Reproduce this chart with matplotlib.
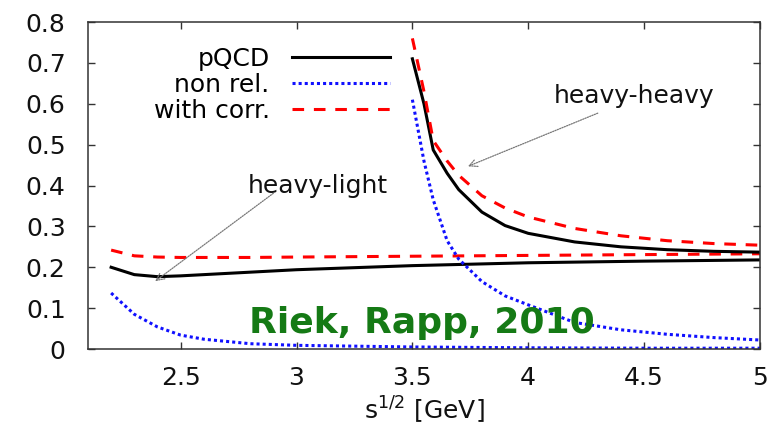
import matplotlib
matplotlib.use("Agg")
import matplotlib.pyplot as plt

plt.rcParams['font.family'] = ['DejaVu Sans']

# heavy-light channel
x_hl = [2.2, 2.3, 2.4, 2.5, 2.6, 2.8, 3.0, 3.5, 4.0, 4.5, 5.0]
pqcd_hl = [0.200, 0.182, 0.177, 0.179, 0.182, 0.188, 0.194, 0.204, 0.211, 0.215, 0.218]
nonrel_hl = [0.137, 0.085, 0.054, 0.034, 0.024, 0.013, 0.009, 0.005, 0.003, 0.002, 0.002]
corr_hl = [0.242, 0.228, 0.225, 0.224, 0.224, 0.224, 0.225, 0.227, 0.229, 0.231, 0.233]

# heavy-heavy channel
x_hh = [3.5, 3.55, 3.59, 3.65, 3.7, 3.8, 3.9, 4.0, 4.2, 4.4, 4.6, 4.8, 5.0]
pqcd_hh = [0.71, 0.60, 0.487, 0.43, 0.39, 0.335, 0.302, 0.283, 0.262, 0.250, 0.243, 0.239, 0.237]
nonrel_hh = [0.61, 0.46, 0.365, 0.265, 0.22, 0.165, 0.13, 0.108, 0.065, 0.047, 0.036, 0.028, 0.022]
corr_hh = [0.76, 0.63, 0.51, 0.46, 0.425, 0.375, 0.345, 0.323, 0.295, 0.277, 0.265, 0.258, 0.254]

xticks = [2.5, 3, 3.5, 4, 4.5, 5]
xtick_labels = ['2.5', '3', '3.5', '4', '4.5', '5']
yticks = [0, 0.1, 0.2, 0.3, 0.4, 0.5, 0.6, 0.7, 0.8]
ytick_labels = ['0', '0.1', '0.2', '0.3', '0.4', '0.5', '0.6', '0.7', '0.8']

fig = plt.figure(figsize=(7.75, 4.36), dpi=100)
ax = fig.add_axes([0.1135, 0.1995, 0.8671, 0.75])

lw = 2.2
black_style = dict(color='black', lw=lw)
blue_style = dict(color='#1010ff', lw=lw, linestyle=(0, (1, 1)))
red_style = dict(color='#ff0000', lw=lw, linestyle=(0, (3.8, 3.2)))

ax.plot(x_hl, pqcd_hl, label='pQCD', **black_style)
ax.plot(x_hl, nonrel_hl, label='non rel.', **blue_style)
ax.plot(x_hl, corr_hl, label='with corr.', **red_style)
ax.plot(x_hh, pqcd_hh, **black_style)
ax.plot(x_hh, nonrel_hh, **blue_style)
ax.plot(x_hh, corr_hh, **red_style)

ax.set_xlim(2.1, 5.0)
ax.set_ylim(0, 0.8)
ax.set_xticks(xticks)
ax.set_xticklabels(xtick_labels)
ax.set_yticks(yticks)
ax.set_yticklabels(ytick_labels)
ax.tick_params(direction='in', length=5, width=1, labelsize=18,
               top=True, right=True, colors='#333333', labelcolor='#111111')
ax.tick_params(axis='y', pad=16)
ax.tick_params(axis='x', pad=12)
for s in ax.spines.values():
    s.set_linewidth(1.1)
    s.set_color('#333333')

ax.set_xlabel(r'$\mathregular{s^{1/2}}$ [GeV]', fontsize=18, color='#111111', labelpad=4)

ax.legend(loc='upper right', bbox_to_anchor=(0.449, 0.925), frameon=False,
          markerfirst=False, fontsize=18, handlelength=3.9, handletextpad=0.9,
          labelspacing=0.08, borderpad=0, borderaxespad=0)

ax.text(3.093, 0.40, 'heavy-light', fontsize=18, ha='center', va='center', color='#111111')
ax.text(4.457, 0.619, 'heavy-heavy', fontsize=18, ha='center', va='center', color='#111111')

arrow = dict(arrowstyle='->', color='#777777', lw=0.9, linestyle=(0, (1, 1)),
             mutation_scale=14, shrinkA=0, shrinkB=0)
ax.annotate('', xy=(2.39, 0.166), xytext=(2.90, 0.381), arrowprops=arrow)
ax.annotate('', xy=(3.74, 0.447), xytext=(4.30, 0.577), arrowprops=arrow)

ax.text(3.541, 0.039, 'Riek, Rapp, 2010', fontsize=26, fontweight='bold',
        color='#157a15', ha='center', va='baseline')

fig.savefig('out.png', dpi=100)
